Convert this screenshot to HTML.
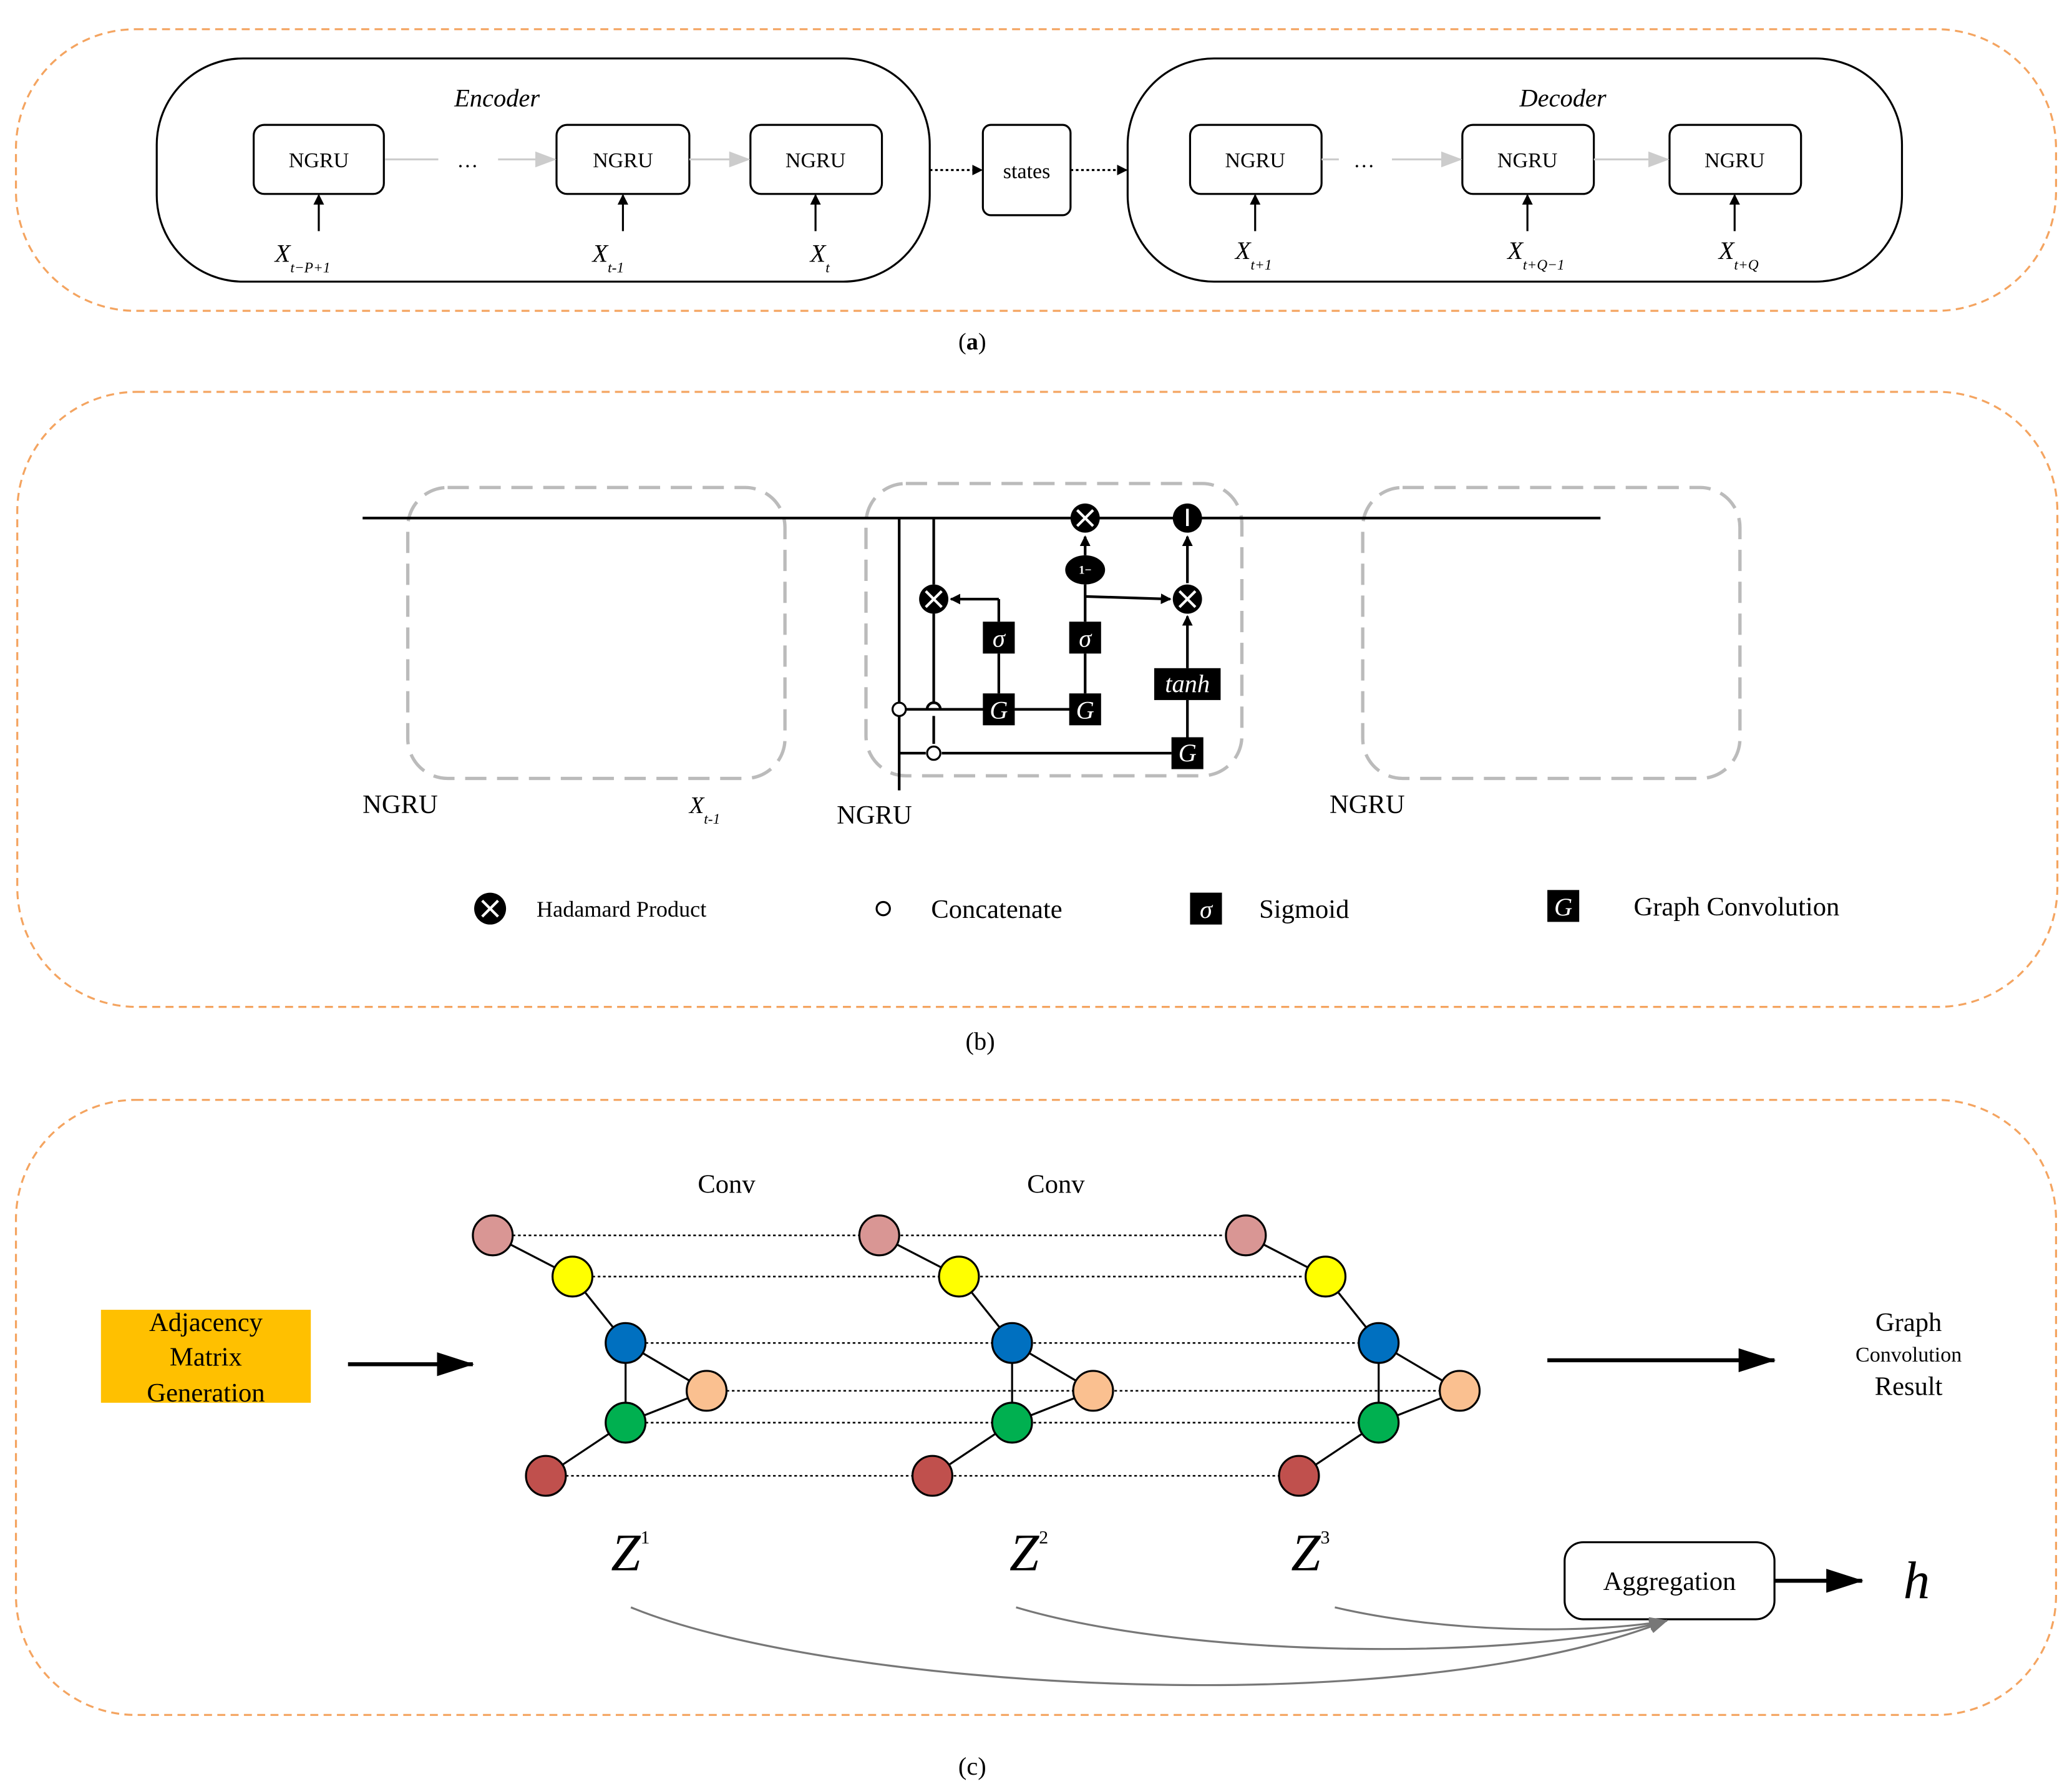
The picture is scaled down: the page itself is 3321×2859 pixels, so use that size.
<!DOCTYPE html>
<html><head><meta charset="utf-8"><style>
html,body{margin:0;padding:0;background:#fff;}
svg{display:block;}
text{font-family:"Liberation Serif",serif;}
text.w,tspan.w{fill:#fff;}
</style></head><body>
<svg width="3321" height="2859" viewBox="0 0 1560 1343" xmlns="http://www.w3.org/2000/svg" fill="#000">
<defs>
<marker id="ab" markerWidth="8" markerHeight="8" refX="7" refY="4" orient="auto" markerUnits="userSpaceOnUse"><path d="M0,0 L8,4 L0,8z" fill="#000"/></marker>
<marker id="ag" markerWidth="16" markerHeight="12" refX="15" refY="6" orient="auto" markerUnits="userSpaceOnUse"><path d="M0,0 L16,6 L0,12z" fill="#ccc"/></marker>
<marker id="abig" markerWidth="28" markerHeight="18" refX="27" refY="9" orient="auto" markerUnits="userSpaceOnUse"><path d="M0,0 L28,9 L0,18z" fill="#000"/></marker>
<marker id="agr" markerWidth="14" markerHeight="10" refX="13" refY="5" orient="auto" markerUnits="userSpaceOnUse"><path d="M0,0 L14,5 L0,10z" fill="#777"/></marker>
</defs>
<g fill="none" stroke="#F4A460" stroke-width="1.5" stroke-dasharray="6,4">
<rect x="12" y="22" width="1536" height="212" rx="90"/>
<rect x="13" y="295" width="1536" height="463" rx="90"/>
<rect x="12" y="828" width="1536" height="463" rx="90"/>
</g>
<!-- (a) -->
<g fill="none" stroke="#000" stroke-width="1.5">
<rect x="118" y="44" width="582" height="168" rx="65"/>
<rect x="849" y="44" width="583" height="168" rx="65"/>
<rect x="740" y="94" width="66" height="68" rx="6"/>
<rect x="191" y="94" width="98" height="52" rx="8"/>
<rect x="419" y="94" width="100" height="52" rx="8"/>
<rect x="565" y="94" width="99" height="52" rx="8"/>
<rect x="896" y="94" width="99" height="52" rx="8"/>
<rect x="1101" y="94" width="99" height="52" rx="8"/>
<rect x="1257" y="94" width="99" height="52" rx="8"/>
</g>
<g stroke="#ccc" stroke-width="1.5">
<line x1="290" y1="120" x2="330" y2="120"/>
<line x1="375" y1="120" x2="418" y2="120" marker-end="url(#ag)"/>
<line x1="519" y1="120" x2="564" y2="120" marker-end="url(#ag)"/>
<line x1="995" y1="120" x2="1008" y2="120"/>
<line x1="1048" y1="120" x2="1100" y2="120" marker-end="url(#ag)"/>
<line x1="1200" y1="120" x2="1256" y2="120" marker-end="url(#ag)"/>
</g>
<g stroke="#000" stroke-width="1.5">
<line x1="700" y1="128" x2="739" y2="128" stroke-dasharray="2,2" marker-end="url(#ab)"/>
<line x1="806" y1="128" x2="848" y2="128" stroke-dasharray="2,2" marker-end="url(#ab)"/>
<line x1="240" y1="174" x2="240" y2="147" marker-end="url(#ab)"/>
<line x1="469" y1="174" x2="469" y2="147" marker-end="url(#ab)"/>
<line x1="614" y1="174" x2="614" y2="147" marker-end="url(#ab)"/>
<line x1="945" y1="174" x2="945" y2="147" marker-end="url(#ab)"/>
<line x1="1150" y1="174" x2="1150" y2="147" marker-end="url(#ab)"/>
<line x1="1306" y1="174" x2="1306" y2="147" marker-end="url(#ab)"/>
</g>
<g font-size="16" text-anchor="middle">
<text x="240" y="126">NGRU</text><text x="469" y="126">NGRU</text><text x="614" y="126">NGRU</text>
<text x="945" y="126">NGRU</text><text x="1150" y="126">NGRU</text><text x="1306" y="126">NGRU</text>
<text x="773" y="134">states</text>
<text x="352" y="126">…</text><text x="1027" y="126">…</text>
</g>
<g font-size="19" font-style="italic">
<text x="342" y="80">Encoder</text><text x="1144" y="80">Decoder</text>
<text x="207" y="197">X<tspan font-size="11" dy="8">t−P+1</tspan></text>
<text x="446" y="197">X<tspan font-size="11" dy="8">t-1</tspan></text>
<text x="610" y="197">X<tspan font-size="11" dy="8">t</tspan></text>
<text x="930" y="195">X<tspan font-size="11" dy="8">t+1</tspan></text>
<text x="1135" y="195">X<tspan font-size="11" dy="8">t+Q−1</tspan></text>
<text x="1294" y="195">X<tspan font-size="11" dy="8">t+Q</tspan></text>
</g>
<text x="732" y="263" font-size="18" text-anchor="middle">(<tspan font-weight="bold">a</tspan>)</text>
<!-- (b) -->
<g fill="none" stroke="#bbb" stroke-width="2.5" stroke-dasharray="16,8">
<rect x="307" y="367" width="284" height="219" rx="30"/>
<rect x="652" y="364" width="283" height="220" rx="30"/>
<rect x="1026" y="367" width="284" height="219" rx="30"/>
</g>
<g stroke="#000" stroke-width="2" fill="none">
<line x1="273" y1="390" x2="1205" y2="390"/>
<line x1="677" y1="390" x2="677" y2="595"/>
<line x1="703" y1="390" x2="703" y2="440"/>
<line x1="703" y1="462" x2="703" y2="530"/>
<path d="M698,534 a5,5 0 0 1 10,0"/>
<line x1="703" y1="539" x2="703" y2="560"/>
<line x1="682" y1="534" x2="742" y2="534"/>
<line x1="764" y1="534" x2="806" y2="534"/>
<line x1="752" y1="492" x2="752" y2="522"/>
<line x1="752" y1="451" x2="752" y2="468"/>
<line x1="752" y1="451" x2="716" y2="451" marker-end="url(#ab)"/>
<line x1="817" y1="492" x2="817" y2="522"/>
<line x1="817" y1="440" x2="817" y2="468"/>
<line x1="817" y1="418" x2="817" y2="404" marker-end="url(#ab)"/>
<line x1="817" y1="449" x2="881" y2="451" marker-end="url(#ab)"/>
<line x1="677" y1="567" x2="697" y2="567"/>
<line x1="709" y1="567" x2="882" y2="567"/>
<line x1="894" y1="555" x2="894" y2="527"/>
<line x1="894" y1="503" x2="894" y2="464" marker-end="url(#ab)"/>
<line x1="894" y1="439" x2="894" y2="404" marker-end="url(#ab)"/>
</g>
<g stroke="#000" stroke-width="1.5" fill="#fff">
<circle cx="677" cy="534" r="5"/><circle cx="703" cy="567" r="5"/>
</g>
<g fill="#000">
<circle cx="703" cy="451" r="11"/><circle cx="817" cy="390" r="11"/><circle cx="894" cy="451" r="11"/><circle cx="894" cy="390" r="11"/>
<ellipse cx="817" cy="429" rx="15" ry="11"/>
<rect x="740" y="468" width="24" height="24"/><rect x="805" y="468" width="24" height="24"/>
<rect x="740" y="522" width="24" height="24"/><rect x="805" y="522" width="24" height="24"/>
<rect x="869" y="503" width="50" height="24"/><rect x="882" y="555" width="24" height="24"/>
<circle cx="369" cy="684" r="12"/><rect x="896" y="672" width="24" height="24"/><rect x="1165" y="670" width="24" height="24"/>
</g>
<g stroke="#fff" stroke-width="2">
<path d="M697,445 l12,12 M709,445 l-12,12 M811,384 l12,12 M823,384 l-12,12 M888,445 l12,12 M900,445 l-12,12 M894,383 v13 M363,678 l12,12 M375,678 l-12,12"/>
</g>
<g font-style="italic" text-anchor="middle" font-size="19">
<text class="w" x="752" y="487">σ</text><text class="w" x="817" y="487">σ</text>
<text class="w" x="752" y="541">G</text><text class="w" x="817" y="541">G</text>
<text class="w" x="894" y="521">tanh</text><text class="w" x="894" y="573">G</text>
<text class="w" x="908" y="691">σ</text><text class="w" x="1177" y="689">G</text>
</g>
<text class="w" x="817" y="432" font-size="9" font-weight="bold" text-anchor="middle">1−</text>
<circle cx="665" cy="684" r="5" fill="#fff" stroke="#000" stroke-width="1.5"/>
<g font-size="20">
<text x="273" y="612">NGRU</text><text x="630" y="620">NGRU</text><text x="1001" y="612">NGRU</text>
<text x="519" y="612" font-style="italic" font-size="18">X<tspan font-size="11" dy="8">t-1</tspan></text>
<text x="404" y="690" font-size="17">Hadamard Product</text>
<text x="701" y="691">Concatenate</text>
<text x="948" y="691">Sigmoid</text>
<text x="1230" y="689">Graph Convolution</text>
</g>
<text x="738" y="790" font-size="19" text-anchor="middle">(b)</text>
<!-- (c) -->
<rect x="76" y="986" width="158" height="70" fill="#FFC000"/>
<rect x="1178" y="1161" width="158" height="58" rx="14" fill="#fff" stroke="#000" stroke-width="1.5"/>
<g font-size="20" text-anchor="middle">
<text x="155" y="1002">Adjacency</text><text x="155" y="1028">Matrix</text><text x="155" y="1055">Generation</text>
<text x="547" y="898">Conv</text><text x="795" y="898">Conv</text>
<text x="1437" y="1002">Graph</text><text x="1437" y="1025" font-size="16">Convolution</text><text x="1437" y="1050">Result</text>
<text x="1257" y="1197">Aggregation</text>
</g>
<g stroke="#000" stroke-width="3">
<line x1="262" y1="1027" x2="356" y2="1027" marker-end="url(#abig)"/>
<line x1="1165" y1="1024" x2="1336" y2="1024" marker-end="url(#abig)"/>
<line x1="1336" y1="1190" x2="1402" y2="1190" marker-end="url(#abig)"/>
</g>
<g stroke="#000" stroke-width="1.2" stroke-dasharray="2,2">
<line x1="386" y1="930" x2="922" y2="930"/>
<line x1="446" y1="961" x2="982" y2="961"/>
<line x1="486" y1="1011" x2="1023" y2="1011"/>
<line x1="547" y1="1047" x2="1084" y2="1047"/>
<line x1="486" y1="1071" x2="1023" y2="1071"/>
<line x1="426" y1="1111" x2="963" y2="1111"/>
</g>
<g id="gr" stroke="#000" stroke-width="1.5">
<path d="M371,930 L431,961 L471,1011 L532,1047 L471,1071 L411,1111 M471,1011 L471,1071" fill="none"/>
<circle cx="371" cy="930" r="15" fill="#D99694"/>
<circle cx="431" cy="961" r="15" fill="#FFFF00"/>
<circle cx="471" cy="1011" r="15" fill="#0070C0"/>
<circle cx="532" cy="1047" r="15" fill="#FAC090"/>
<circle cx="471" cy="1071" r="15" fill="#00B050"/>
<circle cx="411" cy="1111" r="15" fill="#C0504D"/>
</g>
<use href="#gr" transform="translate(291,0)"/>
<use href="#gr" transform="translate(567,0)"/>
<g font-size="40" font-style="italic">
<text x="460" y="1182">Z<tspan font-size="14" font-style="normal" dy="-20">1</tspan></text>
<text x="760" y="1182">Z<tspan font-size="14" font-style="normal" dy="-20">2</tspan></text>
<text x="972" y="1182">Z<tspan font-size="14" font-style="normal" dy="-20">3</tspan></text>
<text x="1433" y="1203">h</text>
</g>
<g stroke="#777" stroke-width="1.5" fill="none">
<path d="M475,1210 C620,1270 1050,1300 1255,1220" marker-end="url(#agr)"/>
<path d="M765,1210 C900,1250 1150,1250 1255,1220" marker-end="url(#agr)"/>
<path d="M1005,1210 C1090,1230 1200,1230 1255,1220" marker-end="url(#agr)"/>
</g>
<text x="732" y="1336" font-size="19" text-anchor="middle">(c)</text>
</svg>
</body></html>
